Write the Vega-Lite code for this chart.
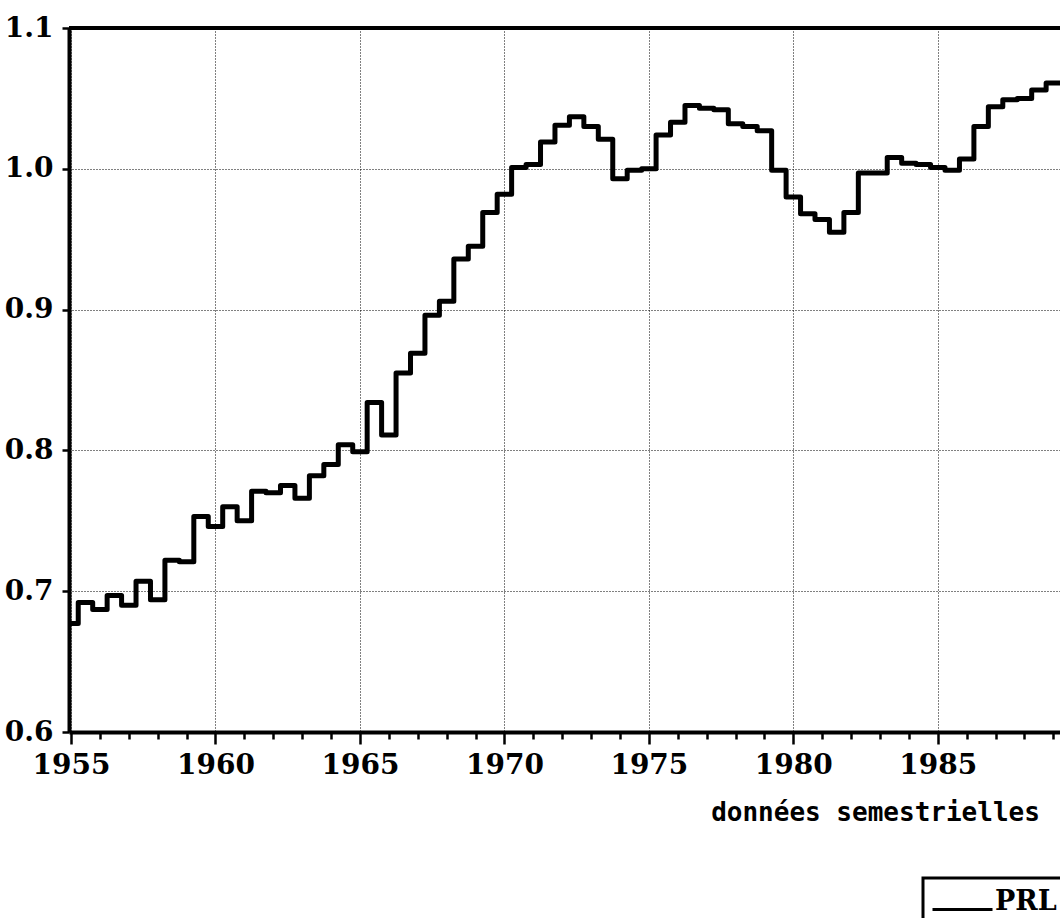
{
  "$schema": "https://vega.github.io/schema/vega-lite/v6.json",
  "width": 991,
  "height": 704,
  "autosize": {"type": "none"},
  "padding": {"left": 69, "top": 28, "right": 0, "bottom": 186},
  "background": "white",
  "data": {"values": [
    {"t": 1955.0, "v": 0.677}, {"t": 1955.5, "v": 0.692}, {"t": 1956.0, "v": 0.687}, {"t": 1956.5, "v": 0.697},
    {"t": 1957.0, "v": 0.690}, {"t": 1957.5, "v": 0.707}, {"t": 1958.0, "v": 0.694}, {"t": 1958.5, "v": 0.722},
    {"t": 1959.0, "v": 0.721}, {"t": 1959.5, "v": 0.753}, {"t": 1960.0, "v": 0.746}, {"t": 1960.5, "v": 0.760},
    {"t": 1961.0, "v": 0.750}, {"t": 1961.5, "v": 0.771}, {"t": 1962.0, "v": 0.770}, {"t": 1962.5, "v": 0.775},
    {"t": 1963.0, "v": 0.766}, {"t": 1963.5, "v": 0.782}, {"t": 1964.0, "v": 0.790}, {"t": 1964.5, "v": 0.804},
    {"t": 1965.0, "v": 0.799}, {"t": 1965.5, "v": 0.834}, {"t": 1966.0, "v": 0.811}, {"t": 1966.5, "v": 0.855},
    {"t": 1967.0, "v": 0.869}, {"t": 1967.5, "v": 0.896}, {"t": 1968.0, "v": 0.906}, {"t": 1968.5, "v": 0.936},
    {"t": 1969.0, "v": 0.945}, {"t": 1969.5, "v": 0.969}, {"t": 1970.0, "v": 0.982}, {"t": 1970.5, "v": 1.001},
    {"t": 1971.0, "v": 1.003}, {"t": 1971.5, "v": 1.019}, {"t": 1972.0, "v": 1.031}, {"t": 1972.5, "v": 1.037},
    {"t": 1973.0, "v": 1.030}, {"t": 1973.5, "v": 1.021}, {"t": 1974.0, "v": 0.993}, {"t": 1974.5, "v": 0.999},
    {"t": 1975.0, "v": 1.000}, {"t": 1975.5, "v": 1.024}, {"t": 1976.0, "v": 1.033}, {"t": 1976.5, "v": 1.045},
    {"t": 1977.0, "v": 1.043}, {"t": 1977.5, "v": 1.042}, {"t": 1978.0, "v": 1.032}, {"t": 1978.5, "v": 1.030},
    {"t": 1979.0, "v": 1.027}, {"t": 1979.5, "v": 0.999}, {"t": 1980.0, "v": 0.980}, {"t": 1980.5, "v": 0.968},
    {"t": 1981.0, "v": 0.964}, {"t": 1981.5, "v": 0.955}, {"t": 1982.0, "v": 0.969}, {"t": 1982.5, "v": 0.997},
    {"t": 1983.0, "v": 0.997}, {"t": 1983.5, "v": 1.008}, {"t": 1984.0, "v": 1.004}, {"t": 1984.5, "v": 1.003},
    {"t": 1985.0, "v": 1.001}, {"t": 1985.5, "v": 0.999}, {"t": 1986.0, "v": 1.007}, {"t": 1986.5, "v": 1.030},
    {"t": 1987.0, "v": 1.044}, {"t": 1987.5, "v": 1.049}, {"t": 1988.0, "v": 1.050}, {"t": 1988.5, "v": 1.056},
    {"t": 1989.0, "v": 1.061}, {"t": 1989.5, "v": 1.061}
  ]},
  "layer": [
    {
      "mark": {"type": "rule", "color": "black", "strokeWidth": 4},
      "encoding": {"y": {"datum": 1.1, "type": "quantitative", "scale": {"domain": [0.6, 1.1]}}}
    },
    {
      "mark": {"type": "line", "interpolate": "step", "strokeWidth": 5, "strokeJoin": "round", "clip": true},
      "encoding": {
        "x": {
          "field": "t", "type": "quantitative",
          "scale": {"domain": [1954.93, 1989.23], "nice": false, "zero": false},
          "axis": {
            "values": [1955,1956,1957,1958,1959,1960,1961,1962,1963,1964,1965,1966,1967,1968,1969,1970,1971,1972,1973,1974,1975,1976,1977,1978,1979,1980,1981,1982,1983,1984,1985,1986,1987,1988,1989],
            "format": "d",
            "labelExpr": "datum.value % 5 === 0 ? datum.label : ''",
            "labelFlush": false,
            "labelOverlap": false,
            "tickSize": {"condition": {"test": "datum.value % 5 === 0", "value": 12}, "value": 7},
            "gridOpacity": {"condition": {"test": "datum.value % 5 === 0", "value": 1}, "value": 0},
            "labelPadding": 7,
            "labelBaseline": "top",
            "labelFontSize": 28,
            "title": "données semestrielles",
            "titleFont": "DejaVu Sans Mono",
            "titleFontWeight": "bold",
            "titleFontSize": 26,
            "titleX": 806,
            "titleY": 88,
            "titleAlign": "center",
            "titleBaseline": "alphabetic",
            "titleColor": "black"
          }
        },
        "y": {
          "field": "v", "type": "quantitative",
          "scale": {"domain": [0.6, 1.1], "nice": false, "zero": false},
          "axis": {
            "values": [0.6, 0.7, 0.8, 0.9, 1.0, 1.1],
            "format": ".1f",
            "tickSize": 7,
            "labelPadding": 9,
            "title": null
          }
        },
        "color": {
          "datum": "PRL",
          "type": "nominal",
          "scale": {"range": ["black"]},
          "legend": {
            "orient": "none",
            "legendX": 854,
            "legendY": 850,
            "title": null,
            "strokeColor": "black",
            "fillColor": "white",
            "padding": 8,
            "clipHeight": 32,
            "symbolType": "M -1 0.25 L 1 0.25",
            "symbolSize": 3600,
            "symbolStrokeWidth": 3,
            "symbolStrokeColor": "black",
            "labelFont": "DejaVu Serif",
            "labelFontWeight": "bold",
            "labelFontSize": 27,
            "labelColor": "black",
            "labelOffset": 1,
            "labelLimit": 300,
            "encode": {"legend": {"update": {"strokeWidth": {"value": 3}}}}
          }
        }
      }
    }
  ],
  "config": {
    "view": {"stroke": null},
    "axis": {
      "domainColor": "black",
      "domainWidth": 4,
      "tickColor": "black",
      "tickWidth": 2.5,
      "grid": true,
      "gridColor": "black",
      "gridDash": [1, 2],
      "gridWidth": 1,
      "labelFont": "DejaVu Serif",
      "labelFontWeight": "bold",
      "labelFontSize": 28,
      "labelColor": "black"
    }
  }
}
